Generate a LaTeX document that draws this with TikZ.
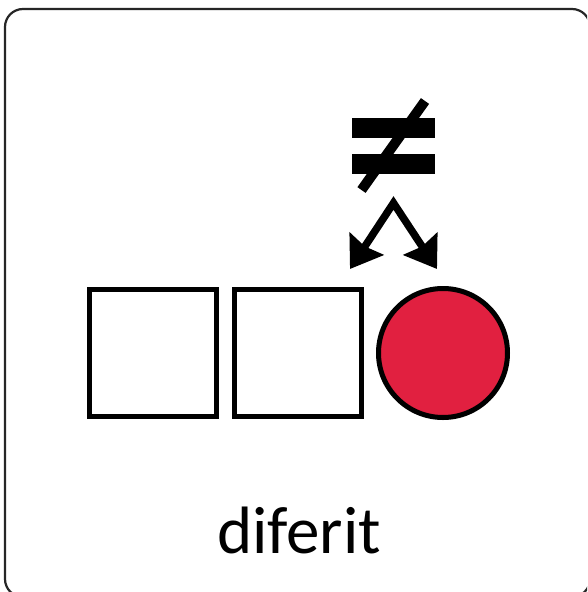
\documentclass[tikz,border=0pt]{standalone}
\usepackage{fontspec}
\setmainfont{Carlito}
\usetikzlibrary{arrows.meta}

\begin{document}
\begin{tikzpicture}[x=1pt,y=-1pt,
    cell/.style = {shape = rectangle, draw = black, fill = white, line width = 5pt, minimum size = 127pt, inner sep = 0pt},
    dot/.style = {shape = circle, draw = black, fill = {rgb,255:red,225;green,32;blue,64}, line width = 5pt, minimum size = 129pt, inner sep = 0pt},
    pointer/.style = {line width = 7.5pt, miter limit = 10, {Stealth[length = 30pt, width = 40pt, inset = 3pt]}-{Stealth[length = 30pt, width = 40pt, inset = 3pt]}},
    bar/.style = {shape = rectangle, fill = black, minimum width = 83pt, minimum height = 20pt, inner sep = 0pt},
    ]
    \useasboundingbox (0, 0) rectangle (587, 592);
    \fill[white] (0, 0) rectangle (587, 592);
    \begin{scope}
        \clip (0, 0) rectangle (587, 592);
        \draw[line width = 2.2pt, draw = black!85, rounded corners = 18pt] (5, 9) rectangle (590, 597);
    \end{scope}
    
    \node[cell] (A) at (153, 353) {};
    \node[cell] (B) at (298, 353) {};
    \node[dot] (C) at (443, 353) {};
    
    \coordinate (top) at (393.5, 203);
    \coordinate (endL) at (350, 269);
    \coordinate (endR) at (437, 269);
    \draw[pointer] (endL) -- (top) -- (endR);
    
    \node[bar] (upper) at (393.5, 127.5) {};
    \node[bar] (lower) at (393.5, 163.5) {};
    \coordinate (slashA) at (425, 101);
    \coordinate (slashB) at (361.5, 190);
    \draw[line width = 10pt] (slashA) -- (slashB);
    
    \node (word) at (299, 530) {\fontsize{67pt}{67pt}\selectfont diferit};
\end{tikzpicture}
\end{document}
